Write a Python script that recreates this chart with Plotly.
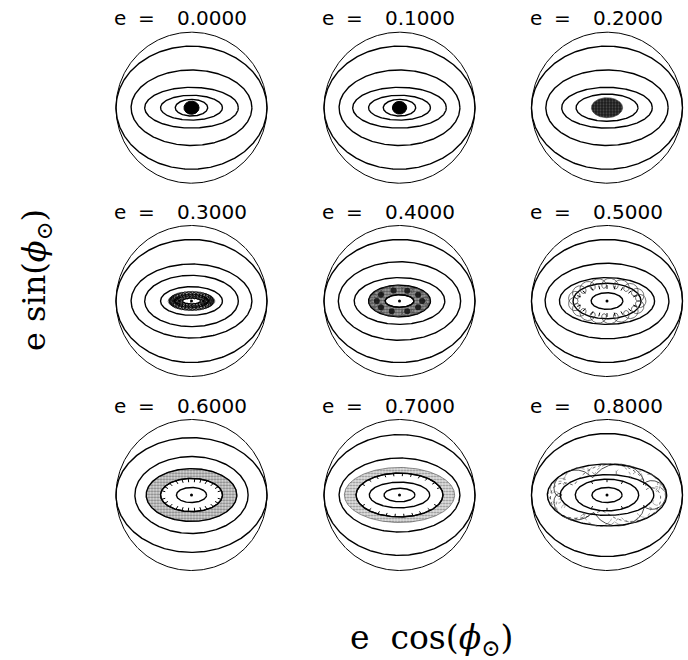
import numpy as np
import plotly.graph_objects as go

# ---------------- data ----------------
E_VALUES = [0.0, 0.1, 0.2, 0.3, 0.4, 0.5, 0.6, 0.7, 0.8]

# level-curve ellipses (semi-axes a, b, in units of e = 1) for each panel
ELLIPSES = [
    [(1, 1), (1, 0.815), (0.80, 0.50), (0.62, 0.27), (0.41, 0.165), (0.215, 0.11)],
    [(1, 1), (1, 0.815), (0.80, 0.50), (0.62, 0.27), (0.41, 0.165), (0.215, 0.11)],
    [(1, 1), (1, 0.815), (0.81, 0.50), (0.60, 0.27), (0.41, 0.18)],
    [(1, 1), (1, 0.815), (0.80, 0.49), (0.62, 0.34), (0.41, 0.19)],
    [(1, 1), (1, 0.815), (0.81, 0.52), (0.60, 0.31), (0.41, 0.21), (0.19, 0.083)],
    [(1, 1), (1, 0.815), (0.82, 0.50), (0.63, 0.31), (0.45, 0.235), (0.21, 0.11)],
    [(1, 1), (1, 0.76), (0.75, 0.51), (0.60, 0.35), (0.41, 0.22), (0.20, 0.10)],
    [(1, 1), (1, 0.80), (0.80, 0.49), (0.575, 0.29), (0.40, 0.17), (0.205, 0.09)],
    [(1, 1), (1, 0.815), (0.79, 0.41), (0.62, 0.27), (0.42, 0.21), (0.20, 0.10)],
]

# solid black core (a, b) for the small-e panels
CORE_SOLID = {0: (0.10, 0.088), 1: (0.095, 0.085)}

# stippled (chaotic) regions: (a_out, b_out, a_in, b_in, fg, bg, solidity)
STIPPLE = {
    2: (0.207, 0.133, 0.0, 0.0, "#888", "#1a1a1a", 0.35),
    3: (0.31, 0.12, 0.12, 0.04, "black", "#bbb", 0.5),
    4: (0.41, 0.21, 0.19, 0.083, "black", "#aaa", 0.5),
    6: (0.60, 0.35, 0.41, 0.22, "#222", "#dddddd", 0.45),
    7: (0.73, 0.365, 0.575, 0.29, "#333", "#e4e4e4", 0.4),
}

# looping resonant trajectories: (A, B, r, n, phase, width, color, dash)
TROCHOIDS = {
    3: [(0.26, 0.092, 0.035, 34, 0.0, 0.8, "black", "solid"),
        (0.19, 0.06, 0.032, 26, 0.5, 0.8, "black", "solid")],
    4: [(0.36, 0.165, 0.04, 16, 0.0, 0.6, "#444", "solid")],
    5: [(0.45, 0.235, 0.066, 18, 0.0, 0.7, "#333", "solid")],
    8: [(0.69, 0.33, 0.09, 6, 0.0, 0.7, "black", "solid"),
        (0.70, 0.34, 0.08, 9, 1.0, 0.6, "#555", "dot"),
        (0.67, 0.31, 0.10, 4, 2.0, 0.6, "black", "dot"),
        (0.71, 0.35, 0.07, 12, 0.5, 0.5, "#666", "dash")],
}

# dark blobs in the e = 0.4 ring (parameter angle, degrees)
BLOB_ANGLES = {4: [0, 35, 70, 105, 145, 180, 215, 250, 290, 325]}
BLOB_ELLIPSE = (0.30, 0.145)

# short tick marks on separatrix rings: (angles in degrees, a1, b1, a2, b2)
TICKS = {
    5: ([20, 40, 60, 75, 90, 105, 120, 140, 160, 200, 220, 240, 255, 270, 285, 300, 320, 340],
        0.42, 0.21, 0.37, 0.16),
    6: ([15, 30, 45, 60, 72, 84, 96, 108, 120, 135, 150, 165, 195, 210, 225, 240, 252,
         264, 276, 288, 300, 315, 330, 345], 0.41, 0.22, 0.36, 0.17),
    7: ([20, 35, 50, 62, 74, 86, 98, 110, 122, 135, 150, 210, 225, 240, 252, 264, 276,
         288, 300, 315, 330], 0.575, 0.29, 0.53, 0.25),
    8: ([60, 90, 120, 240, 270, 300], 0.42, 0.21, 0.38, 0.17),
}

CENTER_DOT = [3, 4, 5, 6, 7, 8]

X_LABEL = "e\u00a0\u00a0cos(<i>\u03d5</i><sub>\u2299</sub>)"
Y_LABEL = "e\u00a0sin(<i>\u03d5</i><sub>\u2299</sub>)"

# ---------------- layout geometry ----------------
W, H = 688, 660
COL_CX = [191.5, 399.5, 607.0]
ROW_CY = [107.7, 301.0, 495.0]
R_PX = 75.5
HALF_PX = 80.0
LIM = HALF_PX / R_PX

fig = go.Figure()


def ax_names(i):
    s = "" if i == 0 else str(i + 1)
    return "x" + s, "y" + s, "xaxis" + s, "yaxis" + s


def ell(a, b, n=361):
    tt = np.linspace(0, 2 * np.pi, n)
    return a * np.cos(tt), b * np.sin(tt)


def ann(text, px, py, size, family="DejaVu Sans", angle=0):
    return dict(text=text, x=px / W, y=1 - py / H, xref="paper", yref="paper",
                xanchor="center", yanchor="middle", showarrow=False,
                textangle=angle, font=dict(family=family, size=size, color="black"))


layout_axes = {}
annotations = []
for i, e in enumerate(E_VALUES):
    xr, yr, xa, ya = ax_names(i)
    cx = COL_CX[i % 3]
    cy = ROW_CY[i // 3]
    layout_axes[xa] = dict(domain=[(cx - HALF_PX) / W, (cx + HALF_PX) / W],
                           range=[-LIM, LIM], visible=False, fixedrange=True,
                           anchor=yr)
    layout_axes[ya] = dict(domain=[1 - (cy + HALF_PX) / H, 1 - (cy - HALF_PX) / H],
                           range=[-LIM, LIM], visible=False, fixedrange=True,
                           anchor=xr)

    # stippled chaotic zones
    if i in STIPPLE:
        ao, bo, ai, bi, fg, bg, sol = STIPPLE[i]
        x, y = ell(ao, bo)
        fig.add_trace(go.Scatter(x=x, y=y, xaxis=xr, yaxis=yr, mode="lines",
                                 fill="toself", fillcolor=bg,
                                 fillpattern=dict(shape=".", fgcolor=fg,
                                                  bgcolor=bg, size=3,
                                                  solidity=sol),
                                 line=dict(color="#444", width=0.6),
                                 hoverinfo="skip", showlegend=False))
        if ai > 0:
            x, y = ell(ai, bi)
            fig.add_trace(go.Scatter(x=x, y=y, xaxis=xr, yaxis=yr, mode="lines",
                                     fill="toself", fillcolor="white",
                                     line=dict(color="black", width=1.2),
                                     hoverinfo="skip", showlegend=False))

    # level curves
    for (a, b) in ELLIPSES[i]:
        x, y = ell(a, b)
        lw = 1.0 if (a == 1 and b == 1) else 1.4
        fig.add_trace(go.Scatter(x=x, y=y, xaxis=xr, yaxis=yr, mode="lines",
                                 line=dict(color="black", width=lw),
                                 hoverinfo="skip", showlegend=False))

    if i in CORE_SOLID:
        a, b = CORE_SOLID[i]
        x, y = ell(a, b)
        fig.add_trace(go.Scatter(x=x, y=y, xaxis=xr, yaxis=yr, mode="lines",
                                 fill="toself", fillcolor="black",
                                 line=dict(color="black", width=1),
                                 hoverinfo="skip", showlegend=False))

    if i in TROCHOIDS:
        tt = np.linspace(0, 2 * np.pi, 3000)
        for (A, B, r, n, ph, lw, col, dash) in TROCHOIDS[i]:
            x = A * np.cos(tt) + r * np.cos(n * tt + ph)
            y = B * np.sin(tt) + r * np.sin(n * tt + ph)
            fig.add_trace(go.Scatter(x=x, y=y, xaxis=xr, yaxis=yr, mode="lines",
                                     line=dict(color=col, width=lw, dash=dash),
                                     hoverinfo="skip", showlegend=False))

    if i in BLOB_ANGLES:
        ang = np.radians(BLOB_ANGLES[i])
        fig.add_trace(go.Scatter(x=BLOB_ELLIPSE[0] * np.cos(ang),
                                 y=BLOB_ELLIPSE[1] * np.sin(ang),
                                 xaxis=xr, yaxis=yr, mode="markers",
                                 marker=dict(color="#111", size=6, symbol="circle",
                                             opacity=0.85),
                                 hoverinfo="skip", showlegend=False))

    if i in TICKS:
        angs, a1, b1, a2, b2 = TICKS[i]
        xs, ys = [], []
        for d in angs:
            th = np.radians(d)
            xs += [a1 * np.cos(th), a2 * np.cos(th), None]
            ys += [b1 * np.sin(th), b2 * np.sin(th), None]
        fig.add_trace(go.Scatter(x=xs, y=ys, xaxis=xr, yaxis=yr, mode="lines",
                                 line=dict(color="black", width=1),
                                 hoverinfo="skip", showlegend=False))

    if i in CENTER_DOT:
        fig.add_trace(go.Scatter(x=[0], y=[0], xaxis=xr, yaxis=yr, mode="markers",
                                 marker=dict(color="black", size=3),
                                 hoverinfo="skip", showlegend=False))

    ty = cy - 89.5
    annotations.append(ann("e", cx - 71.5, ty, 20))
    annotations.append(ann("=", cx - 45.0, ty, 20))
    annotations.append(ann(f"{e:.4f}", cx + 20.5, ty, 20))

annotations.append(ann(X_LABEL, 431, 639, 33, family="DejaVu Serif"))
annotations.append(ann(Y_LABEL, 36, 280, 32, family="DejaVu Serif", angle=-90))

fig.update_layout(width=W, height=H, margin=dict(l=0, r=0, t=0, b=0),
                  paper_bgcolor="white", plot_bgcolor="rgba(0,0,0,0)",
                  showlegend=False, annotations=annotations, **layout_axes)

fig.write_html("out.html",
               config={"displayModeBar": False, "staticPlot": True},
               post_script="document.body.style.margin='0';"
                           "document.body.style.overflow='hidden';")
